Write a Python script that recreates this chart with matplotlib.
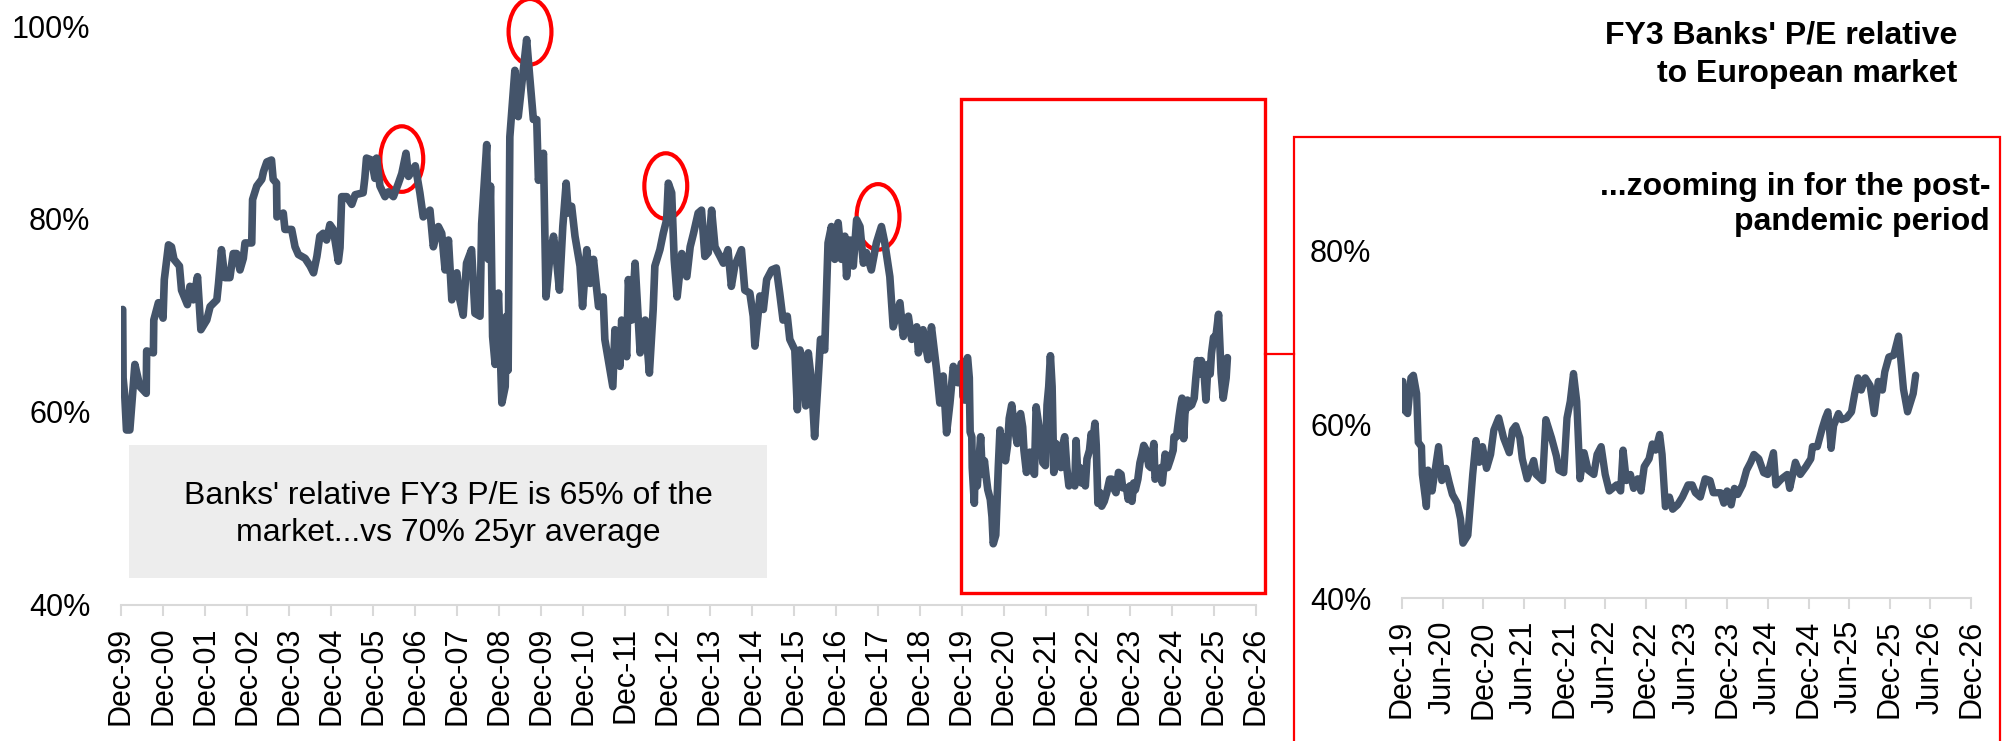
import matplotlib.pyplot as plt
import matplotlib.dates as mdates
import numpy as np
import pandas as pd
from matplotlib.patches import Ellipse, Rectangle
from matplotlib.lines import Line2D
from matplotlib.ticker import PercentFormatter

plt.rcParams['font.family'] = ['Liberation Sans', 'DejaVu Sans']

# years after the Dec-99 tick and banks' relative P/E in %
t_pre = [0.04, 0.05, 0.09, 0.13, 0.21, 0.33, 0.45, 0.60, 0.61, 0.77,
         0.78, 0.89, 1.00, 1.03, 1.13, 1.20, 1.26, 1.39, 1.44, 1.58,
         1.64, 1.72, 1.82, 1.90, 2.04, 2.12, 2.28, 2.32, 2.39, 2.47,
         2.59, 2.67, 2.75, 2.83, 2.91, 2.95, 3.11, 3.13, 3.23, 3.35,
         3.39, 3.47, 3.58, 3.62, 3.70, 3.71, 3.86, 3.90, 4.06, 4.14,
         4.22, 4.38, 4.50, 4.58, 4.66, 4.73, 4.81, 4.89, 4.97, 5.05,
         5.17, 5.21, 5.25, 5.37, 5.49, 5.57, 5.76, 5.80, 5.84, 5.96,
         6.04, 6.08, 6.16, 6.28, 6.36, 6.48, 6.60, 6.68, 6.78, 6.84,
         7.00, 7.11, 7.19, 7.35, 7.43, 7.55, 7.63, 7.71, 7.79, 7.87,
         7.99, 8.06, 8.14, 8.22, 8.34, 8.42, 8.54, 8.58, 8.70, 8.74,
         8.79, 8.84, 8.90, 8.98, 9.06, 9.14, 9.17, 9.21, 9.25, 9.37,
         9.45, 9.57, 9.65, 9.71, 9.81, 9.89, 9.93, 10.05, 10.11, 10.21,
         10.29, 10.36, 10.43, 10.51, 10.59, 10.64, 10.72, 10.80, 10.92, 10.98,
         11.08, 11.16, 11.24, 11.36, 11.47, 11.51, 11.62, 11.70, 11.75, 11.87,
         11.91, 12.03, 12.07, 12.15, 12.23, 12.35, 12.47, 12.57, 12.66, 12.70,
         12.82, 12.90, 12.98, 13.02, 13.10, 13.16, 13.23, 13.34, 13.46, 13.54,
         13.62, 13.73, 13.81, 13.89, 13.97, 14.05, 14.13, 14.25, 14.33, 14.44,
         14.52, 14.60, 14.76, 14.84, 14.96, 15.04, 15.08, 15.20, 15.28, 15.36,
         15.48, 15.59, 15.67, 15.75, 15.85, 15.91, 16.03, 16.09, 16.15, 16.23,
         16.29, 16.35, 16.43, 16.50, 16.58, 16.64, 16.74, 16.82, 16.90, 16.98,
         17.06, 17.14, 17.22, 17.26, 17.34, 17.42, 17.50, 17.58, 17.66, 17.73,
         17.85, 17.97, 18.09, 18.17, 18.29, 18.37, 18.53, 18.61, 18.73, 18.81,
         18.93, 18.97, 19.08, 19.20, 19.28, 19.40, 19.48, 19.56, 19.64, 19.72,
         19.80, 19.91, 19.99]
pe_pre = [70.6, 63.5, 61.6, 58.1, 58.1, 64.9, 62.6, 61.9, 66.3, 66.1,
          69.5, 71.3, 69.7, 73.7, 77.3, 77.1, 75.8, 75.1, 72.6, 71.1,
          73.0, 71.6, 74.0, 68.5, 69.5, 70.9, 71.6, 73.3, 76.8, 73.9,
          73.9, 76.4, 76.4, 74.7, 75.9, 77.5, 77.5, 82.0, 83.4, 84.1,
          84.9, 85.9, 86.1, 84.1, 83.7, 80.2, 80.6, 78.9, 78.9, 77.1,
          76.3, 75.9, 75.1, 74.4, 76.1, 78.2, 78.5, 77.8, 79.4, 78.9,
          75.6, 77.0, 82.3, 82.3, 81.5, 82.5, 82.7, 84.2, 86.3, 86.1,
          84.2, 86.3, 83.4, 82.3, 82.8, 82.3, 83.7, 84.7, 86.8, 84.4,
          85.5, 82.7, 80.2, 80.9, 77.1, 79.2, 78.5, 74.7, 77.8, 71.6,
          74.4, 71.6, 70.0, 75.4, 76.8, 70.2, 69.9, 79.5, 87.7, 75.8,
          83.4, 67.8, 64.9, 72.3, 60.9, 62.6, 69.9, 64.3, 88.5, 95.4,
          90.6, 95.4, 98.6, 95.4, 90.3, 90.3, 84.0, 86.8, 71.9, 76.4,
          78.2, 75.8, 72.6, 79.2, 83.7, 80.6, 81.3, 78.2, 75.1, 70.9,
          76.8, 73.3, 75.8, 70.9, 71.9, 67.5, 64.7, 62.6, 68.5, 64.7,
          69.5, 65.7, 73.7, 69.5, 75.4, 66.1, 69.5, 64.0, 70.6, 75.1,
          76.8, 78.5, 79.9, 83.7, 82.7, 75.8, 71.9, 76.4, 74.0, 77.1,
          78.5, 80.6, 80.9, 76.1, 76.5, 80.9, 77.1, 76.1, 75.4, 76.8,
          73.0, 75.1, 76.8, 72.6, 72.3, 69.9, 66.8, 72.0, 70.6, 73.7,
          74.7, 74.9, 72.3, 69.5, 69.9, 67.5, 66.4, 60.2, 66.4, 65.0,
          60.6, 66.1, 63.0, 57.4, 63.0, 67.5, 66.4, 77.5, 79.2, 75.8,
          79.6, 75.8, 78.2, 74.0, 77.8, 75.1, 79.9, 79.2, 75.4, 76.5,
          74.7, 77.5, 79.2, 77.5, 74.0, 68.8, 71.3, 67.8, 69.9, 67.5,
          68.8, 66.1, 68.5, 65.4, 68.8, 64.4, 60.9, 63.7, 57.8, 60.9,
          64.7, 63.0, 65.0]

# post-pandemic stretch (same units)
t_post = [20.01, 20.03, 20.07, 20.11, 20.14, 20.18, 20.20, 20.24, 20.25, 20.30,
          20.32, 20.37, 20.45, 20.49, 20.54, 20.58, 20.62, 20.68, 20.72, 20.75,
          20.81, 20.87, 20.91, 20.95, 20.99, 21.04, 21.09, 21.13, 21.19, 21.25,
          21.32, 21.36, 21.40, 21.45, 21.48, 21.54, 21.62, 21.65, 21.73, 21.77,
          21.84, 21.90, 21.93, 21.99, 22.03, 22.07, 22.11, 22.15, 22.19, 22.24,
          22.29, 22.36, 22.40, 22.45, 22.50, 22.55, 22.64, 22.69, 22.72, 22.76,
          22.81, 22.85, 22.90, 22.94, 22.98, 23.04, 23.08, 23.12, 23.17, 23.20,
          23.24, 23.29, 23.33, 23.39, 23.45, 23.52, 23.57, 23.61, 23.67, 23.73,
          23.79, 23.83, 23.92, 23.96, 24.00, 24.05, 24.09, 24.13, 24.19, 24.24,
          24.29, 24.33, 24.39, 24.45, 24.50, 24.57, 24.60, 24.67, 24.74, 24.77,
          24.84, 24.90, 24.97, 25.03, 25.05, 25.11, 25.17, 25.21, 25.24, 25.28,
          25.31, 25.37, 25.41, 25.47, 25.53, 25.57, 25.61, 25.65, 25.70, 25.76,
          25.81, 25.86, 25.91, 25.94, 25.99, 26.05, 26.11, 26.13, 26.17, 26.22,
          26.26, 26.29, 26.32]
pe_post = [64.9, 61.6, 61.2, 65.3, 65.6, 63.5, 57.9, 57.4, 54.2, 50.5,
           54.7, 52.3, 57.4, 53.5, 54.9, 53.3, 51.9, 50.9, 49.1, 46.3,
           47.2, 54.2, 58.1, 55.6, 57.4, 54.9, 56.5, 59.3, 60.7, 58.4,
           56.7, 59.3, 59.8, 58.4, 56.0, 53.7, 55.8, 54.2, 53.5, 60.5,
           58.4, 56.3, 54.7, 54.4, 60.7, 62.6, 65.8, 62.6, 53.7, 56.7,
           54.7, 54.2, 56.5, 57.4, 54.2, 52.3, 53.0, 52.3, 57.0, 53.5,
           54.2, 52.6, 53.7, 52.3, 55.1, 56.0, 57.7, 57.0, 58.8, 56.5,
           50.5, 51.6, 50.2, 50.7, 51.6, 53.0, 53.0, 52.1, 51.6, 53.7,
           53.5, 52.1, 52.1, 50.9, 52.3, 50.7, 52.6, 51.9, 53.0, 54.7,
           55.6, 56.5, 56.0, 54.4, 54.2, 56.7, 53.0, 53.7, 54.2, 52.6,
           55.6, 54.2, 55.1, 56.0, 57.4, 57.4, 59.5, 60.7, 61.4, 57.2,
           59.8, 61.2, 60.5, 60.7, 61.4, 63.5, 65.3, 63.9, 65.3, 64.4,
           61.2, 64.9, 63.9, 66.0, 67.7, 67.9, 70.1, 68.1, 64.0, 61.4,
           62.6, 63.5, 65.6]

# circled peaks (years after Dec-99, %)
peak_t = [6.68, 9.73, 12.96, 18.01]
peak_pe = [86.2, 99.4, 83.4, 80.2]

title = "FY3 Banks' P/E relative\nto European market"
zoom_title = "...zooming in for the post-\npandemic period"
note = "Banks' relative FY3 P/E is 65% of the\nmarket...vs 70% 25yr average"

start = pd.Timestamp('1999-12-01')


def to_dates(t):
    return start + pd.to_timedelta(np.asarray(t) * 365.25, unit='D')


dates = to_dates(t_pre + t_post)
pe = np.array(pe_pre + pe_post) / 100

W, H = 2004, 741
fig = plt.figure(figsize=(W / 100, H / 100), dpi=100)


def fig_box(x0, y0, x1, y1):
    # pixel box (top-left origin) -> figure fraction rect
    return [x0 / W, 1 - y1 / H, (x1 - x0) / W, (y1 - y0) / H]


line_col = '#44546A'
grey = '#D9D9D9'

ax = fig.add_axes(fig_box(121, 26, 1256, 604.5))
ax2 = fig.add_axes(fig_box(1402, 163, 1971, 598))

ax.plot(dates, pe, color=line_col, lw=5.5, solid_joinstyle='round', solid_capstyle='round')
post = dates >= pd.Timestamp('2019-12-01')
ax2.plot(dates[post], pe[post], color=line_col, lw=5.3, solid_joinstyle='round',
         solid_capstyle='round')

ax.set_xlim(pd.Timestamp('1999-12-01'), pd.Timestamp('2026-12-01'))
ax.set_ylim(0.4, 1.0)
ax.set_yticks([0.4, 0.6, 0.8, 1.0])
ax.xaxis.set_major_locator(mdates.MonthLocator(bymonth=12))

ax2.set_xlim(pd.Timestamp('2019-12-01'), pd.Timestamp('2026-12-01'))
ax2.set_ylim(0.4, 0.9)
ax2.set_yticks([0.4, 0.6, 0.8])
ax2.xaxis.set_major_locator(mdates.MonthLocator(bymonth=[6, 12]))

for a in (ax, ax2):
    for s in ['top', 'right', 'left']:
        a.spines[s].set_visible(False)
    a.spines['bottom'].set_color(grey)
    a.spines['bottom'].set_linewidth(1.5)
    a.xaxis.set_major_formatter(mdates.DateFormatter('%b-%y'))
    a.yaxis.set_major_formatter(PercentFormatter(1.0, decimals=0))
    a.tick_params(axis='x', color=grey, length=8, width=1.5, pad=8,
                  labelsize=22, labelrotation=90)
    a.tick_params(axis='y', length=0, pad=22, labelsize=22)
    a.patch.set_alpha(0)

# red circles around the peaks
for t, v in zip(to_dates(peak_t), peak_pe):
    ax.add_patch(Ellipse((mdates.date2num(t), v / 100), width=1.02 * 365.25, height=0.068,
                         fill=False, ec='red', lw=3, clip_on=False))

# zoom boxes and connector
lb = fig_box(961, 99, 1265, 593)
fig.add_artist(Rectangle(lb[:2], lb[2], lb[3], transform=fig.transFigure,
                         fill=False, ec='red', lw=2.4))
rb = fig_box(1294, 137, 2000, 760)
fig.add_artist(Rectangle(rb[:2], rb[2], rb[3], transform=fig.transFigure,
                         fill=False, ec='red', lw=1.6))
fig.add_artist(Line2D([1265 / W, 1294 / W], [1 - 354 / H, 1 - 354 / H],
                      transform=fig.transFigure, color='red', lw=1.6))

# grey note box
nb = fig_box(129, 445, 767, 578)
fig.add_artist(Rectangle(nb[:2], nb[2], nb[3], transform=fig.transFigure,
                         fc='#EDEDED', ec='none', zorder=0))
fig.text(448.5 / W, 1 - 481 / H, note, ha='center', va='top', fontsize=23,
         linespacing=1.3)

fig.text(1957 / W, 1 - 21 / H, title, ha='right', va='top', fontsize=23,
         fontweight='bold', linespacing=1.34)
fig.text(1990 / W, 1 - 172 / H, zoom_title, ha='right', va='top', fontsize=23,
         fontweight='bold', linespacing=1.21)

fig.savefig('out.png', dpi=100)
